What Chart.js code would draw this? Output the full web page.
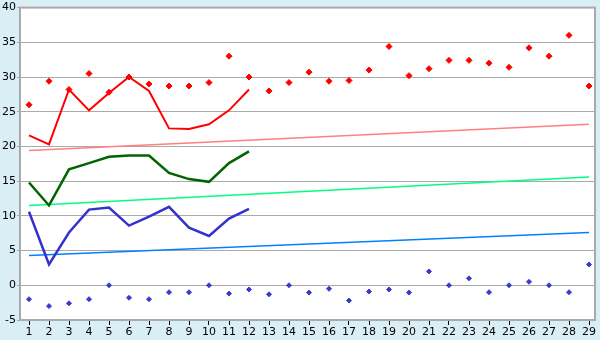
<!DOCTYPE html>
<html>
<head>
<meta charset="utf-8">
<script src="https://cdn.jsdelivr.net/npm/chart.js@4"></script>
<style>
  html, body { margin: 0; padding: 0; background: #daeef5; }
  #wrap { width: 600px; height: 340px; }
</style>
</head>
<body>
<div id="wrap"><canvas id="myChart" width="600" height="340"></canvas></div>
<script>
// dias (eje x)
var dias = [1,2,3,4,5,6,7,8,9,10,11,12,13,14,15,16,17,18,19,20,21,22,23,24,25,26,27,28,29];
// ticks del eje y
var ticksY = [-5,0,5,10,15,20,25,30,35,40];

// puntos rojos (uno por dia)
var puntosRojos = [26,29.4,28.2,30.5,27.8,30,29,28.7,28.7,29.2,33,30,28,29.2,30.7,29.4,29.5,31,34.4,30.2,31.2,32.4,32.4,32,31.4,34.2,33,36,28.7];
// puntos azules (uno por dia)
var puntosAzules = [-2,-3,-2.6,-2,0,-1.8,-2,-1,-1,0,-1.2,-0.6,-1.3,0,-1.05,-0.5,-2.2,-0.9,-0.6,-1.05,2,0,1,-1,0,0.5,0,-1,3];

// lineas de los primeros 12 dias
var lineaRoja = [21.6,20.3,28.2,25.2,27.7,30,28,22.6,22.5,23.2,25.2,28.2];
var lineaVerde = [14.8,11.5,16.7,17.6,18.5,18.7,18.7,16.2,15.3,14.9,17.6,19.3];
var lineaAzul = [10.6,3.0,7.6,10.9,11.2,8.6,9.9,11.3,8.3,7.1,9.6,11];

// tendencias (inicio y fin)
var tendRoja = [19.4,23.2];
var tendVerde = [11.5,15.6];
var tendAzul = [4.3,7.6];

function pares(valores) {
    return valores.map(function (v, i) { return {x: dias[i], y: v}; });
}
function extremos(t) {
    return [{x: dias[0], y: t[0]}, {x: dias[dias.length - 1], y: t[1]}];
}

// fondo blanco del area del grafico y borde gris
var fondoPlugin = {
    id: 'fondo',
    beforeDraw: function (chart) {
        var ctx = chart.ctx, a = chart.chartArea;
        ctx.save();
        ctx.fillStyle = '#daeef5';
        ctx.fillRect(0, 0, chart.width, chart.height);
        ctx.fillStyle = '#ffffff';
        ctx.fillRect(a.left, a.top, a.right - a.left, a.bottom - a.top);
        ctx.restore();
    },
    afterDraw: function (chart) {
        var ctx = chart.ctx, a = chart.chartArea;
        ctx.save();
        ctx.strokeStyle = '#aaaaaa';
        ctx.lineWidth = 2;
        ctx.strokeRect(a.left, a.top, a.right - a.left, a.bottom - a.top);
        ctx.restore();
    }
};

var ctx = document.getElementById('myChart').getContext('2d');
var myChart = new Chart(ctx, {
    type: 'line',
    data: {
        datasets: [
            {data: pares(lineaRoja), borderColor: '#ff0000', borderWidth: 2, pointRadius: 0, order: 1},
            {data: pares(lineaVerde), borderColor: '#006400', borderWidth: 2.5, pointRadius: 0, order: 2},
            {data: pares(lineaAzul), borderColor: '#3333cc', borderWidth: 2.5, pointRadius: 0, order: 3},
            {data: pares(puntosRojos), showLine: false, pointStyle: 'rectRot', pointRadius: 3,
                backgroundColor: '#ff0000', borderColor: '#ff0000', borderWidth: 1, order: 0},
            {data: pares(puntosAzules), showLine: false, pointStyle: 'rectRot', pointRadius: 2.5,
                backgroundColor: '#3a3acc', borderColor: '#3a3acc', borderWidth: 1, order: 0},
            {data: extremos(tendRoja), borderColor: '#ff8080', borderWidth: 1.5, pointRadius: 0, order: 5},
            {data: extremos(tendVerde), borderColor: '#00ff80', borderWidth: 1.5, pointRadius: 0, order: 5},
            {data: extremos(tendAzul), borderColor: '#0080ff', borderWidth: 1.5, pointRadius: 0, order: 5}
        ]
    },
    options: {
        responsive: false,
        animation: false,
        layout: {padding: {top: 5, right: 5, left: 0, bottom: 0}},
        plugins: {legend: {display: false}, tooltip: {enabled: false}},
        scales: {
            x: {
                type: 'linear',
                min: 0.55,
                max: 29.3,
                afterBuildTicks: function (scale) {
                    scale.ticks = dias.map(function (d) { return {value: d}; });
                },
                afterFit: function (scale) { scale.height = 20; },
                grid: {drawOnChartArea: false, drawTicks: true, tickLength: 5, color: '#000000'},
                border: {color: '#aaaaaa', width: 2},
                ticks: {
                    autoSkip: false, maxRotation: 0, padding: 1,
                    color: '#000000', font: {family: 'DejaVu Sans', size: 11}
                }
            },
            y: {
                min: -5,
                max: 40,
                afterBuildTicks: function (scale) {
                    scale.ticks = ticksY.map(function (v) { return {value: v}; });
                },
                afterFit: function (scale) { scale.width = 20; },
                grid: {color: '#aaaaaa', lineWidth: 1, tickLength: 3, drawTicks: true},
                border: {color: '#aaaaaa', width: 2},
                ticks: {
                    padding: 1, color: '#000000',
                    font: {family: 'DejaVu Sans', size: 11}
                }
            }
        }
    },
    plugins: [fondoPlugin]
});
</script>
</body>
</html>
